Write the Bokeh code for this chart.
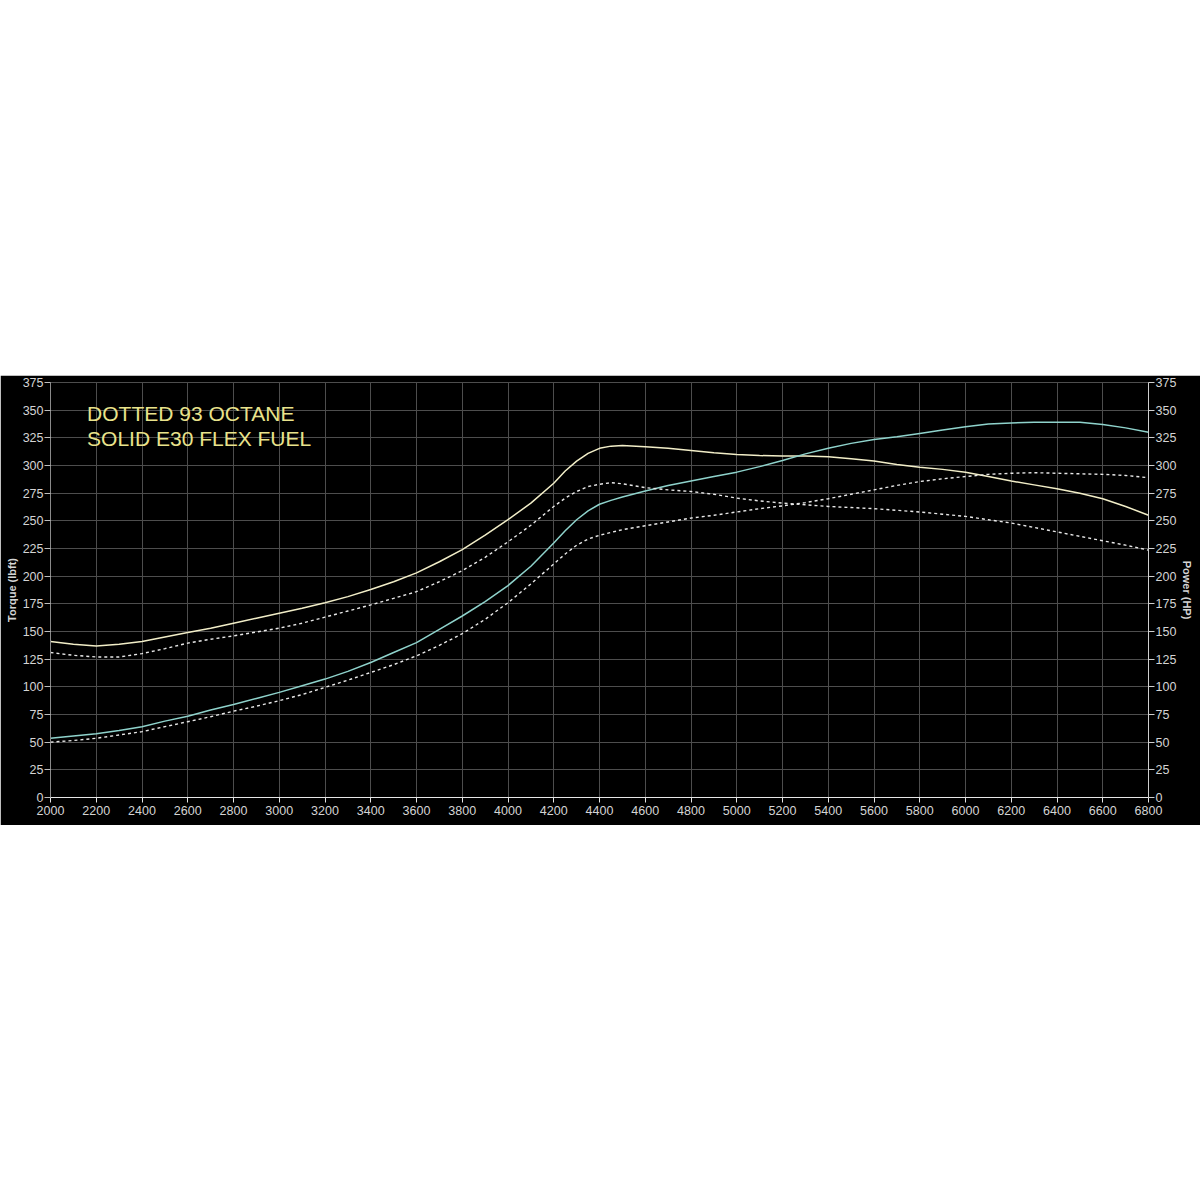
from bokeh.plotting import figure
from bokeh.models import Range1d, LinearAxis, FixedTicker, Label, Spacer
from bokeh.layouts import column
from bokeh.embed import file_html
from bokeh.resources import INLINE

rpm = [2000, 2100, 2200, 2300, 2400, 2500, 2600, 2700, 2800, 2900,
       3000, 3100, 3200, 3300, 3400, 3500, 3600, 3700, 3800, 3900,
       4000, 4100, 4200, 4250, 4300, 4350, 4400, 4450, 4500, 4600,
       4700, 4800, 4900,
       5000, 5100, 5200, 5300, 5400, 5500, 5600, 5700, 5800, 5900,
       6000, 6100, 6200, 6300, 6400, 6500, 6600, 6700, 6800]

torque_e30 = [141, 138.5, 137, 138.5, 141, 145, 149, 153, 157.5, 162,
              166.5, 171, 176, 181.5, 188, 195, 203, 213, 224, 237,
              251, 266, 284, 295, 304, 311, 315.5, 317.5, 318, 317,
              315.5, 313.5, 311.5,
              310, 309, 308.5, 308.5, 308, 306, 304, 301, 298.5, 296.5,
              294, 290, 286, 282.5, 279, 275, 270, 263, 255]

power_e30 = [53.5, 55.5, 57.5, 60.5, 64, 69, 73.5, 79, 84, 89.5,
             95, 101, 107, 114, 122, 131, 140, 152, 164, 177,
             191.5, 209, 230, 241, 251, 259, 265, 268.5, 271.5, 277,
             282, 286, 290,
             294, 299, 304.5, 310.5, 315.5, 320, 323.5, 326, 329, 332,
             335, 337.5, 338.5, 339, 339, 339, 337, 334, 330]

torque_93 = [131, 128.5, 127, 127, 130, 134.5, 139.5, 143, 146, 149.5,
             153, 157.5, 163, 168.5, 174, 180, 186, 195, 205, 217,
             231, 246, 263, 270.5, 276.5, 281, 283, 284.5, 283.5, 280,
             278, 276.5, 274,
             270.5, 268, 266, 264.5, 263, 262, 261, 259.5, 258, 256,
             254, 251, 248, 244, 240, 236, 232, 228, 223.5]

power_93 = [50, 51.5, 53.5, 56.5, 59.5, 64, 68.5, 73, 78, 82.5,
            87.5, 93, 99.5, 106, 113, 120, 128, 137.5, 148, 161,
            176, 193, 211, 220, 228, 233.5, 237, 239.5, 242, 245.5,
            249, 252.5, 255,
            258, 261, 263.5, 266.5, 270, 274, 278, 282, 285.5, 288,
            290, 292, 293, 293.5, 293, 292.5, 292, 291, 289]

x_ticks = list(range(2000, 6801, 200))
y_ticks = list(range(0, 376, 25))
legend_lines = ["DOTTED 93 OCTANE", "SOLID E30 FLEX FUEL"]

BG = "#000000"
GRID = "#4d4d4d"
TXT = "#d4d4d4"

p = figure(width=1200, height=450, output_backend="svg", toolbar_location=None,
           x_range=Range1d(2000, 6800), y_range=Range1d(0, 375),
           background_fill_color=BG, border_fill_color=BG,
           min_border_left=50, min_border_right=52, min_border_top=7,
           min_border_bottom=28, outline_line_color=GRID)
p.extra_y_ranges = {"power": Range1d(0, 375)}

p.xaxis.ticker = FixedTicker(ticks=x_ticks)
p.yaxis.ticker = FixedTicker(ticks=y_ticks)
p.xgrid.ticker = FixedTicker(ticks=x_ticks)
p.ygrid.ticker = FixedTicker(ticks=y_ticks)
p.grid.grid_line_color = GRID
p.grid.grid_line_width = 1

right = LinearAxis(y_range_name="power", ticker=FixedTicker(ticks=y_ticks),
                   axis_label="Power (HP)")
p.add_layout(right, "right")

p.yaxis[0].axis_label = "Torque (lbft)"
for ax in p.yaxis:
    ax.major_label_text_color = TXT
    ax.major_label_text_font = "Liberation Sans"
    ax.major_label_text_font_size = "12.5px"
    ax.major_tick_out = 6
    ax.major_tick_in = 0
    ax.minor_tick_out = 0
    ax.minor_tick_in = 0
    ax.major_label_standoff = 1
    ax.axis_label_text_color = TXT
    ax.axis_label_text_font = "Liberation Sans"
    ax.axis_label_text_font_style = "bold"
    ax.axis_label_text_font_size = "11px"
    ax.axis_label_standoff = 2
p.yaxis[0].axis_line_color = "#8a8a8a"
p.yaxis[0].major_tick_line_color = "#bdbdbd"
right.axis_line_color = "#cfcfcf"
right.major_tick_line_color = "#cfcfcf"

xa = p.xaxis[0]
xa.axis_line_color = "#e6e6e6"
xa.major_tick_line_color = "#e6e6e6"
xa.major_tick_out = 5
xa.major_tick_in = 0
xa.minor_tick_out = 0
xa.minor_tick_in = 0
xa.major_label_standoff = 3
xa.major_label_text_color = TXT
xa.major_label_text_font = "Liberation Sans"
xa.major_label_text_font_size = "12.5px"

# solid E30 curves
p.line(rpm, torque_e30, line_color="#f2eec8", line_width=1.5)
p.line(rpm, power_e30, line_color="#8fd3cc", line_width=1.5)
# dotted 93 octane curves
p.line(rpm, torque_93, line_color="#e8e8e8", line_width=1.4, line_dash="3 3")
p.line(rpm, power_93, line_color="#e8e8e8", line_width=1.4, line_dash="3 3")

for i, t in enumerate(legend_lines):
    p.add_layout(Label(x=2160, y=357 - i * 22.5, text=t, text_baseline="top",
                       text_color="#e9e38c", text_font="Liberation Sans",
                       text_font_size="21px"))

layout = column(Spacer(width=1200, height=375), p)
open("out.html", "w").write(file_html(layout, INLINE))
